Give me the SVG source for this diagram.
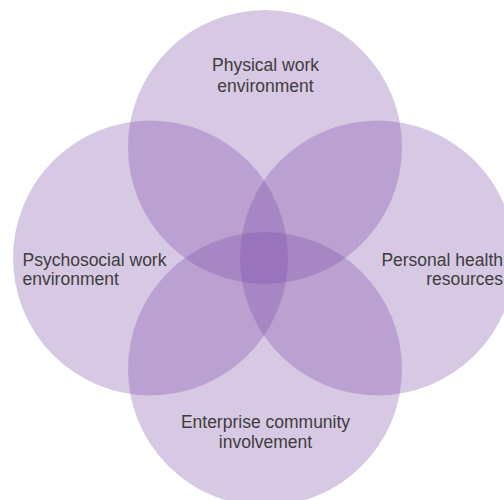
<svg xmlns="http://www.w3.org/2000/svg" width="504" height="500" viewBox="0 0 504 500">
  <style>
    .c { fill: #7a48a4; fill-opacity: 0.3; stroke: none; }
    .t { font-family: "Liberation Sans", Arial, sans-serif; font-size: 17.5px; fill: #3d3d3d; }
  </style>
  <rect width="504" height="500" fill="#ffffff"/>
  <g id="physical">
    <circle class="c" cx="265" cy="147" r="137"/>
    <text class="t" x="265.5" y="71" text-anchor="middle">Physical work</text>
    <text class="t" x="265.5" y="91.5" text-anchor="middle">environment</text>
  </g>
  <g id="psychosocial">
    <circle class="c" cx="150.5" cy="258" r="137.5"/>
  </g>
  <g id="personal">
    <circle class="c" cx="377.5" cy="258" r="137.5"/>
  </g>
  <g id="enterprise">
    <circle class="c" cx="265" cy="369" r="137"/>
    <text class="t" x="265.5" y="428" text-anchor="middle">Enterprise community</text>
    <text class="t" x="265.5" y="448" text-anchor="middle">involvement</text>
  </g>
  <g id="labels-side">
    <text class="t" x="22.5" y="265.5">Psychosocial work</text>
    <text class="t" x="22.5" y="284.5">environment</text>
    <text class="t" x="503" y="265.5" text-anchor="end">Personal health</text>
    <text class="t" x="503" y="284.5" text-anchor="end">resources</text>
  </g>
  <g id="connectors"/>
</svg>
